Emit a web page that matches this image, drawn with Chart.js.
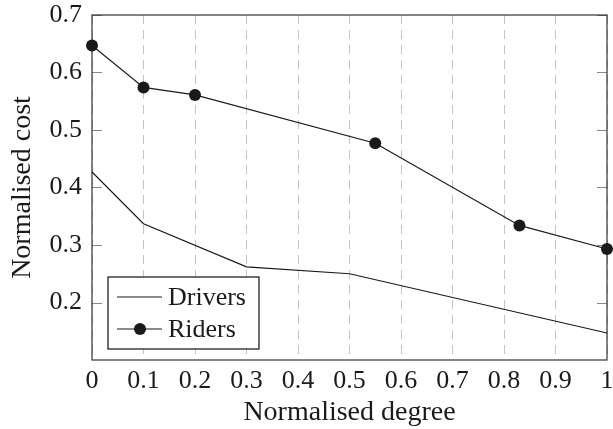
<!DOCTYPE html>
<html>
<head>
<meta charset="utf-8">
<script src="https://cdn.jsdelivr.net/npm/chart.js@4.4.1/dist/chart.umd.min.js"></script>
<style>
  body { margin: 0; background: #fff; }
  #wrap { width: 613px; height: 429px; }
</style>
</head>
<body>
<div id="wrap"><canvas id="chart" width="613" height="429"></canvas></div>
<script>
// data
const xTickValues = [0, 0.1, 0.2, 0.3, 0.4, 0.5, 0.6, 0.7, 0.8, 0.9, 1];
const xTickLabels = ['0', '0.1', '0.2', '0.3', '0.4', '0.5', '0.6', '0.7', '0.8', '0.9', '1'];
const yTickValues = [0.2, 0.3, 0.4, 0.5, 0.6, 0.7];
const yTickLabels = ['0.2', '0.3', '0.4', '0.5', '0.6', '0.7'];

const driversX = [0, 0.1, 0.3, 0.5, 1];
const driversY = [0.427, 0.337, 0.262, 0.25, 0.147];
const ridersX = [0, 0.1, 0.2, 0.55, 0.83, 1];
const ridersY = [0.647, 0.574, 0.561, 0.477, 0.334, 0.293];

const serif = '"Liberation Serif", "DejaVu Serif", serif';
const ink = '#1a1a1a';

const toPoints = (xs, ys) => xs.map((x, i) => ({ x: x, y: ys[i] }));

// box around plot + small inward y ticks
const framePlugin = {
  id: 'frame',
  beforeDatasetsDraw(chart) {
    const { ctx, chartArea: a, scales } = chart;
    ctx.save();
    ctx.strokeStyle = '#888';
    ctx.lineWidth = 1;
    yTickValues.forEach(v => {
      const y = Math.round(scales.y.getPixelForValue(v)) + 0.5;
      ctx.beginPath();
      ctx.moveTo(a.left, y); ctx.lineTo(a.left + 10, y);
      ctx.moveTo(a.right, y); ctx.lineTo(a.right - 10, y);
      ctx.stroke();
    });
    ctx.strokeStyle = '#333';
    ctx.lineWidth = 1.2;
    ctx.strokeRect(a.left, a.top, a.right - a.left, a.bottom - a.top);
    ctx.restore();
  }
};

// legend box inside the lower left corner
const boxLegend = {
  id: 'boxLegend',
  afterDatasetsDraw(chart) {
    const { ctx } = chart;
    const x0 = 108, y0 = 277, w = 151, h = 72;
    ctx.save();
    ctx.fillStyle = '#fff';
    ctx.fillRect(x0, y0, w, h);
    ctx.strokeStyle = '#222';
    ctx.lineWidth = 1.3;
    ctx.strokeRect(x0, y0, w, h);
    chart.data.datasets.forEach((ds, i) => {
      const cy = y0 + 20 + i * 32;
      ctx.strokeStyle = ink;
      ctx.lineWidth = 1.2;
      ctx.beginPath();
      ctx.moveTo(x0 + 9, cy); ctx.lineTo(x0 + 54, cy);
      ctx.stroke();
      if (ds.pointRadius > 0) {
        ctx.fillStyle = ink;
        ctx.beginPath();
        ctx.arc(x0 + 32, cy, 6, 0, Math.PI * 2);
        ctx.fill();
      }
      ctx.fillStyle = ink;
      ctx.font = '26px ' + serif;
      ctx.textBaseline = 'middle';
      ctx.textAlign = 'left';
      ctx.fillText(ds.label, x0 + 60, cy + 1);
    });
    ctx.restore();
  }
};

new Chart(document.getElementById('chart'), {
  type: 'scatter',
  data: {
    datasets: [{
      label: 'Drivers',
      data: toPoints(driversX, driversY),
      showLine: true,
      borderColor: ink,
      borderWidth: 1.2,
      pointRadius: 0,
      clip: false
    }, {
      label: 'Riders',
      data: toPoints(ridersX, ridersY),
      showLine: true,
      borderColor: ink,
      borderWidth: 1.2,
      backgroundColor: ink,
      pointRadius: 6,
      pointBorderWidth: 0,
      clip: false
    }]
  },
  options: {
    responsive: false,
    animation: false,
    layout: { padding: { top: 15, right: 3, bottom: 0, left: 0 } },
    plugins: { legend: { display: false }, tooltip: { enabled: false } },
    scales: {
      x: {
        type: 'linear',
        min: 0, max: 1,
        afterBuildTicks: s => { s.ticks = xTickValues.map(v => ({ value: v })); },
        afterFit: s => { s.height = 69; s.paddingLeft = 0; s.paddingRight = 0; },
        ticks: {
          color: ink,
          font: { family: serif, size: 26 },
          padding: 6,
          maxRotation: 0,
          autoSkip: false,
          callback: (v, i) => xTickLabels[i]
        },
        grid: { color: '#c4c4c4', lineWidth: 1, drawTicks: false },
        border: { display: false, dash: [9, 6] },
        title: {
          display: true,
          text: 'Normalised degree',
          color: ink,
          font: { family: serif, size: 28 },
          padding: { top: 2, bottom: 0 }
        }
      },
      y: {
        type: 'linear',
        min: 0.1, max: 0.7,
        afterBuildTicks: s => { s.ticks = yTickValues.map(v => ({ value: v })); },
        afterFit: s => { s.width = 92; s.paddingTop = 0; s.paddingBottom = 0; },
        ticks: {
          color: ink,
          font: { family: serif, size: 26 },
          padding: 10,
          callback: (v, i) => yTickLabels[i]
        },
        grid: { display: false, drawTicks: false },
        border: { display: false },
        title: {
          display: true,
          text: 'Normalised cost',
          color: ink,
          font: { family: serif, size: 28 },
          padding: { top: 6, bottom: 0 }
        }
      }
    }
  },
  plugins: [framePlugin, boxLegend]
});
</script>
</body>
</html>
